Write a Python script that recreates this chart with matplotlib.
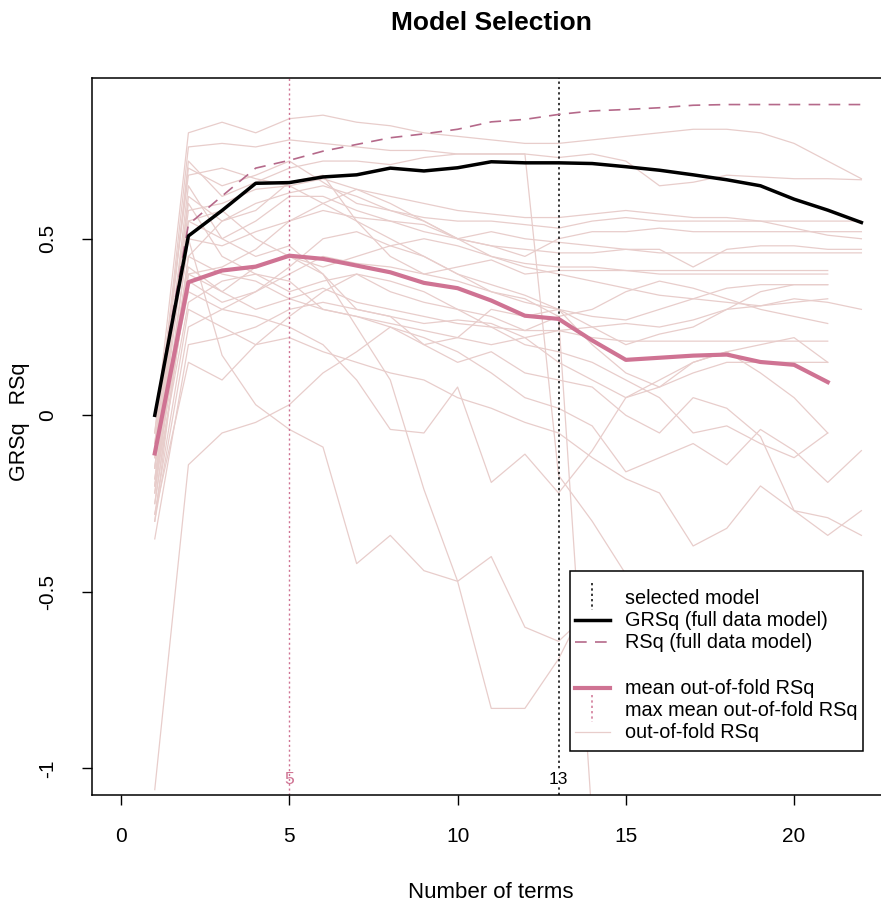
import matplotlib
matplotlib.use("Agg")
import matplotlib.pyplot as plt
from matplotlib.patches import Rectangle
from matplotlib.lines import Line2D

plt.rcParams['font.family'] = ['Liberation Sans', 'DejaVu Sans']

# ---------------- data ----------------
n_terms = list(range(1, 23))

grsq = [0.00, 0.508, 0.58, 0.657, 0.659, 0.675, 0.681, 0.700, 0.692, 0.701, 0.718,
        0.715, 0.715, 0.713, 0.704, 0.694, 0.681, 0.667, 0.650, 0.612, 0.581, 0.546]

rsq = [0.00, 0.540, 0.621, 0.700, 0.722, 0.748, 0.767, 0.786, 0.797, 0.810, 0.831,
       0.838, 0.852, 0.862, 0.866, 0.871, 0.878, 0.880, 0.880, 0.880, 0.880, 0.880]

mean_oof_rsq = [-0.108, 0.377, 0.410, 0.421, 0.452, 0.443, 0.424, 0.405, 0.375, 0.360,
                0.325, 0.282, 0.273, 0.212, 0.157, 0.163, 0.169, 0.172, 0.151, 0.143, 0.094]

oof_rsq = [
    [-0.05, 0.80, 0.83, 0.80, 0.84, 0.85, 0.83, 0.82, 0.80, 0.79, 0.78, 0.77, 0.77, 0.78, 0.79, 0.80, 0.81, 0.81, 0.80, 0.77, 0.72, 0.67],
    [-0.10, 0.76, 0.77, 0.76, 0.78, 0.77, 0.76, 0.75, 0.75, 0.74, 0.74, 0.74, 0.73, 0.74, 0.72, 0.65, 0.66, 0.68, 0.675, 0.67, 0.67, 0.667],
    [-0.15, 0.72, 0.62, 0.66, 0.70, 0.72, 0.72, 0.71, 0.73, 0.74, 0.74, 0.74, -0.17, -0.30, -0.45, -0.62, -0.72, -0.78, -0.85, -0.88, -0.92],
    [-0.20, 0.62, 0.55, 0.58, 0.66, 0.68, 0.55, 0.45, 0.40, 0.38, 0.35, 0.33, 0.28, -1.15, -1.30, -1.30, -1.30, -1.30, -1.30, -1.30, -1.30],
    [-0.30, 0.45, 0.40, 0.38, 0.33, 0.30, 0.28, 0.25, 0.22, 0.18, 0.12, 0.05, 0.02, -0.03, -0.16, -0.12, -0.08, -0.14, -0.04, -0.10, -0.19, -0.10],
    [-0.25, 0.40, 0.35, 0.42, 0.45, 0.40, 0.30, 0.28, 0.20, 0.15, 0.18, 0.12, 0.10, 0.08, 0.00, -0.05, 0.05, 0.02, -0.06, -0.27, -0.34, -0.27],
    [-0.28, 0.30, 0.25, 0.20, 0.22, 0.18, 0.15, 0.12, 0.10, 0.05, 0.02, -0.02, -0.05, -0.12, -0.18, -0.22, -0.37, -0.32, -0.20, -0.27, -0.29, -0.34],
    [-1.06, -0.14, -0.05, -0.02, 0.03, 0.12, 0.18, 0.25, 0.20, 0.22, 0.30, 0.28, 0.30, 0.25, 0.20, 0.23, 0.25, 0.30, 0.35, 0.37, 0.37],
    [-0.22, 0.50, 0.17, 0.03, -0.04, -0.09, -0.42, -0.34, -0.44, -0.47, -0.40, -0.60, -0.64, -0.55, -0.60, -0.62, -0.55, -0.50, -0.48, -0.45, -0.45],
    [-0.18, 0.55, 0.50, 0.45, 0.48, 0.40, 0.25, 0.10, -0.21, -0.47, -0.83, -0.83, -0.69, -0.50, -0.60, -0.65, -0.60, -0.55, -0.58, -0.60, -0.62],
    [-0.12, 0.35, 0.30, 0.28, 0.25, 0.20, 0.10, -0.04, -0.05, 0.08, -0.19, -0.11, -0.22, -0.10, 0.05, 0.10, 0.15, 0.18, 0.20, 0.22, 0.15],
    [-0.08, 0.70, 0.65, 0.68, 0.72, 0.66, 0.60, 0.58, 0.56, 0.55, 0.55, 0.54, 0.53, 0.55, 0.56, 0.55, 0.55, 0.55, 0.55, 0.55, 0.55, 0.55],
    [-0.15, 0.65, 0.50, 0.55, 0.62, 0.62, 0.58, 0.55, 0.52, 0.50, 0.48, 0.45, 0.50, 0.52, 0.52, 0.53, 0.52, 0.52, 0.52, 0.52, 0.52, 0.52],
    [-0.20, 0.50, 0.48, 0.52, 0.55, 0.58, 0.56, 0.55, 0.54, 0.50, 0.52, 0.50, 0.49, 0.48, 0.47, 0.47, 0.42, 0.47, 0.48, 0.48, 0.47, 0.47],
    [-0.22, 0.45, 0.55, 0.60, 0.63, 0.65, 0.62, 0.58, 0.55, 0.50, 0.48, 0.47, 0.46, 0.46, 0.47, 0.46, 0.46, 0.46, 0.46, 0.46, 0.46, 0.46],
    [-0.25, 0.40, 0.42, 0.47, 0.55, 0.60, 0.64, 0.60, 0.55, 0.50, 0.45, 0.42, 0.40, 0.38, 0.36, 0.34, 0.33, 0.32, 0.31, 0.33, 0.32, 0.30],
    [-0.10, 0.55, 0.58, 0.50, 0.45, 0.42, 0.45, 0.48, 0.50, 0.48, 0.45, 0.43, 0.42, 0.42, 0.41, 0.41, 0.41, 0.41, 0.41, 0.41, 0.41],
    [-0.18, 0.38, 0.32, 0.35, 0.40, 0.45, 0.43, 0.42, 0.40, 0.42, 0.44, 0.40, 0.41, 0.41, 0.41, 0.40, 0.40, 0.40, 0.40, 0.40, 0.40],
    [-0.30, 0.25, 0.30, 0.35, 0.42, 0.50, 0.52, 0.48, 0.45, 0.40, 0.35, 0.32, 0.30, 0.28, 0.27, 0.30, 0.33, 0.36, 0.37, 0.37, 0.37],
    [-0.12, 0.42, 0.35, 0.30, 0.33, 0.36, 0.32, 0.30, 0.28, 0.26, 0.25, 0.24, 0.24, 0.25, 0.26, 0.25, 0.27, 0.30, 0.31, 0.32, 0.33],
    [-0.20, 0.32, 0.38, 0.40, 0.38, 0.30, 0.28, 0.26, 0.24, 0.22, 0.20, 0.22, 0.24, 0.22, 0.21, 0.21, 0.21, 0.21, 0.21, 0.21, 0.21],
    [-0.35, 0.20, 0.22, 0.25, 0.30, 0.32, 0.30, 0.28, 0.26, 0.27, 0.26, 0.22, 0.15, 0.10, 0.05, 0.08, 0.12, 0.15, 0.15, 0.15, 0.15],
    [-0.15, 0.58, 0.60, 0.64, 0.65, 0.60, 0.55, 0.50, 0.45, 0.40, 0.37, 0.34, 0.30, 0.20, 0.12, 0.08, 0.15, 0.18, 0.12, 0.05, -0.05],
    [-0.05, 0.68, 0.70, 0.67, 0.65, 0.67, 0.64, 0.62, 0.60, 0.58, 0.57, 0.56, 0.56, 0.57, 0.58, 0.57, 0.56, 0.56, 0.55, 0.53, 0.51, 0.50],
    [-0.28, 0.15, 0.10, 0.20, 0.28, 0.35, 0.40, 0.38, 0.35, 0.30, 0.25, 0.20, 0.18, 0.15, 0.10, 0.05, -0.05, -0.03, -0.08, -0.12, -0.05],
    [-0.08, 0.60, 0.45, 0.40, 0.35, 0.38, 0.40, 0.35, 0.32, 0.30, 0.28, 0.24, 0.28, 0.30, 0.35, 0.38, 0.36, 0.33, 0.30, 0.28, 0.26],
]

selected_model = 13
max_mean_oof = 5

x_ticks = [0, 5, 10, 15, 20]
y_ticks = [-1, -0.5, 0, 0.5]
y_tick_labels = ["-1", "-0.5", "0", "0.5"]

legend_labels = ["selected model", "GRSq (full data model)", "RSq (full data model)", "",
                 "mean out-of-fold RSq", "max mean out-of-fold RSq", "out-of-fold RSq"]

# ---------------- styles ----------------
COL_OOF = "#E8CDCB"
COL_MEAN = "#CF7393"
COL_RSQ = "#B5698A"
COL_GRSQ = "black"

W, H = 881, 907
fig = plt.figure(figsize=(W / 100, H / 100), dpi=100)
ax_l, ax_r, ax_t, ax_b = 91.5, 891.0, 78.0, 795.0
ax = fig.add_axes([ax_l / W, 1 - ax_b / H, (ax_r - ax_l) / W, (ax_b - ax_t) / H])

for line in oof_rsq:
    ax.plot(n_terms[:len(line)], line, color=COL_OOF, lw=0.9, zorder=1)

ax.axvline(max_mean_oof, color=COL_MEAN, lw=1.0, ls=(0, (1.5, 2)), zorder=2)
ax.axvline(selected_model, color="black", lw=1.1, ls=(0, (1.5, 2)), zorder=2)

ax.plot(n_terms[:len(mean_oof_rsq)], mean_oof_rsq, color=COL_MEAN, lw=3.0, zorder=3,
        solid_joinstyle="round")
ax.plot(n_terms, rsq, color=COL_RSQ, lw=1.2, dashes=(7, 5), zorder=3)
ax.plot(n_terms, grsq, color=COL_GRSQ, lw=2.5, zorder=4)

ax.set_xlim(-0.88, 22.88)
ax.set_ylim(-1.0 - 0.0752, 0.88 + 0.0752)
ax.set_xticks(x_ticks)
ax.set_yticks(y_ticks)
ax.set_yticklabels(y_tick_labels, rotation=90, va="center")
ax.tick_params(axis="both", direction="out", length=7, width=1, labelsize=15, colors="black")
ax.tick_params(axis="x", pad=16)
ax.tick_params(axis="y", pad=18)
for s in ax.spines.values():
    s.set_linewidth(1.1)

# labels at bottom of vlines
ax.text(max_mean_oof, -1.0 - 0.03, str(max_mean_oof), color=COL_MEAN, ha="center", va="center",
        fontsize=12.5, zorder=5)
ax.text(selected_model, -1.0 - 0.03, str(selected_model), color="black", ha="center", va="center",
        fontsize=12.5, zorder=5, bbox=dict(facecolor="white", edgecolor="none", pad=0.5))

fig.text(491 / W, 1 - 23 / H, "Model Selection", ha="center", va="center",
         fontsize=19, fontweight="bold")
fig.text(491 / W, 1 - 893 / H, "Number of terms", ha="center", va="center", fontsize=16)
fig.text(20 / W, 1 - 422 / H, "GRSq   RSq", ha="center", va="center", fontsize=15.5, rotation=90)

# ---------------- legend (drawn like R's legend box) ----------------
def fx(px):
    return (px - ax_l) / (ax_r - ax_l)

def fy(py):
    return (ax_b - py) / (ax_b - ax_t)

T = ax.transAxes
ax.add_patch(Rectangle((fx(570), fy(751)), fx(863) - fx(570), fy(571) - fy(751), transform=T,
                       facecolor="white", edgecolor="black", lw=1.1, zorder=10))
rows = [598, 620, 642, 665, 688, 710, 732]
sym_x0, sym_x1, sym_xm = 575, 610, 592
styles = [
    dict(kind="v", color="black"),
    dict(kind="h", color=COL_GRSQ, lw=2.5, ls="-"),
    dict(kind="h", color=COL_RSQ, lw=1.2, ls=(0, (7, 5))),
    None,
    dict(kind="h", color=COL_MEAN, lw=3.0, ls="-"),
    dict(kind="v", color=COL_MEAN),
    dict(kind="h", color=COL_OOF, lw=0.9, ls="-"),
]
for py, lab, st in zip(rows, legend_labels, styles):
    if st is None:
        continue
    if st["kind"] == "v":
        ax.add_line(Line2D([fx(sym_xm), fx(sym_xm)], [fy(py - 15), fy(py + 12)], transform=T,
                           color=st["color"], lw=1.1, ls=(0, (1.5, 2)), zorder=11))
    else:
        ax.add_line(Line2D([fx(sym_x0), fx(sym_x1)], [fy(py), fy(py)], transform=T,
                           color=st["color"], lw=st["lw"], ls=st["ls"], zorder=11))
    ax.text(fx(625), fy(py), lab, transform=T, ha="left", va="center", fontsize=14.3, zorder=12)

fig.savefig("out.png", dpi=100)
